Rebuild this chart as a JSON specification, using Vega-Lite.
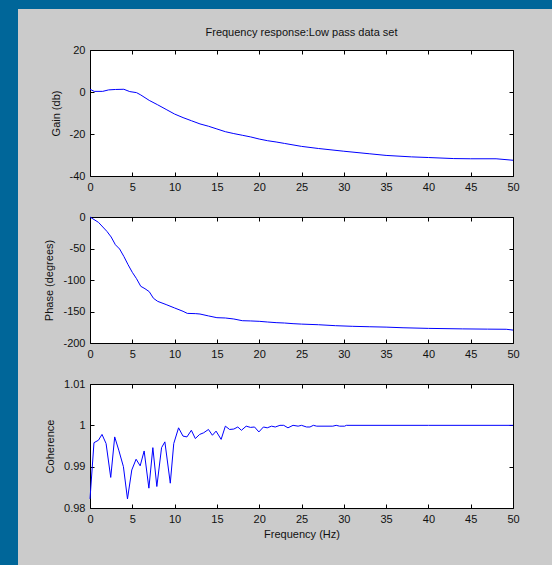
{
  "$schema": "https://vega.github.io/schema/vega-lite/v6.json",
  "background": "#cbcbcb",
  "padding": 0,
  "spacing": 0,
  "bounds": "flush",
  "datasets": {
    "gain": [
      {"f": 0, "v": 1.3}, {"f": 0.5, "v": 0.3}, {"f": 1.5, "v": 0.3}, {"f": 2.2, "v": 1.0}, {"f": 3, "v": 1.2},
      {"f": 4, "v": 1.3}, {"f": 4.7, "v": 0.2}, {"f": 5.5, "v": -0.3}, {"f": 6, "v": -1.4}, {"f": 7, "v": -4.0},
      {"f": 8, "v": -6.1}, {"f": 9, "v": -8.3}, {"f": 10, "v": -10.5}, {"f": 11, "v": -12.2}, {"f": 12, "v": -13.7},
      {"f": 13, "v": -15.2}, {"f": 14, "v": -16.3}, {"f": 15, "v": -17.6}, {"f": 16, "v": -18.9}, {"f": 17, "v": -19.8},
      {"f": 18, "v": -20.6}, {"f": 19, "v": -21.4}, {"f": 20, "v": -22.4}, {"f": 21, "v": -23.2}, {"f": 22, "v": -23.8},
      {"f": 23, "v": -24.5}, {"f": 25, "v": -25.9}, {"f": 27, "v": -26.9}, {"f": 30, "v": -28.2}, {"f": 33, "v": -29.4},
      {"f": 35, "v": -30.2}, {"f": 38, "v": -30.9}, {"f": 40, "v": -31.2}, {"f": 43, "v": -31.7}, {"f": 45, "v": -31.8},
      {"f": 48, "v": -31.8}, {"f": 50, "v": -32.5}
    ],
    "phase": [
      {"f": 0, "v": 0}, {"f": 1, "v": -8.5}, {"f": 2, "v": -22.8}, {"f": 2.5, "v": -31.7}, {"f": 3, "v": -44},
      {"f": 3.5, "v": -50.8}, {"f": 4, "v": -62.5}, {"f": 4.5, "v": -75.7}, {"f": 5, "v": -87.8}, {"f": 5.5, "v": -97.9},
      {"f": 6, "v": -110}, {"f": 6.5, "v": -113.8}, {"f": 7, "v": -118.5}, {"f": 7.5, "v": -129}, {"f": 8, "v": -133.9},
      {"f": 9, "v": -139}, {"f": 10, "v": -144.4}, {"f": 11, "v": -149.7}, {"f": 11.5, "v": -153}, {"f": 12.5, "v": -153.4},
      {"f": 13, "v": -154}, {"f": 14, "v": -157}, {"f": 15, "v": -159.8}, {"f": 16, "v": -160.3}, {"f": 17, "v": -161.9},
      {"f": 18, "v": -164.6}, {"f": 19, "v": -165}, {"f": 20, "v": -165.6}, {"f": 21, "v": -166.7}, {"f": 22, "v": -167.7},
      {"f": 23, "v": -168.3}, {"f": 24, "v": -169.3}, {"f": 25, "v": -170}, {"f": 27, "v": -171}, {"f": 29, "v": -172.5},
      {"f": 31, "v": -173.5}, {"f": 33, "v": -174.2}, {"f": 35, "v": -174.8}, {"f": 37, "v": -175.8}, {"f": 40, "v": -176.8},
      {"f": 44, "v": -177.6}, {"f": 47, "v": -178}, {"f": 49.2, "v": -178.2}, {"f": 50, "v": -179.5}
    ],
    "coh": [
      {"f": 0, "v": 0.9822}, {"f": 0.47, "v": 0.9958}, {"f": 1.0, "v": 0.9964}, {"f": 1.42, "v": 0.9978}, {"f": 1.9, "v": 0.9956},
      {"f": 2.45, "v": 0.9874}, {"f": 2.92, "v": 0.9972}, {"f": 3.4, "v": 0.994}, {"f": 3.95, "v": 0.99}, {"f": 4.43, "v": 0.9822},
      {"f": 4.94, "v": 0.9892}, {"f": 5.45, "v": 0.9918}, {"f": 5.93, "v": 0.9902}, {"f": 6.4, "v": 0.9938}, {"f": 6.96, "v": 0.9848},
      {"f": 7.43, "v": 0.9946}, {"f": 7.9, "v": 0.9852}, {"f": 8.46, "v": 0.9946}, {"f": 8.85, "v": 0.996}, {"f": 9.49, "v": 0.986},
      {"f": 9.9, "v": 0.9956}, {"f": 10.47, "v": 0.9994}, {"f": 10.99, "v": 0.9974}, {"f": 11.46, "v": 0.9972}, {"f": 11.98, "v": 0.9988},
      {"f": 12.45, "v": 0.9968}, {"f": 12.96, "v": 0.9978}, {"f": 13.44, "v": 0.9982}, {"f": 14.0, "v": 0.999}, {"f": 14.47, "v": 0.9976},
      {"f": 14.9, "v": 0.9986}, {"f": 15.5, "v": 0.9966}, {"f": 16.0, "v": 0.9998}, {"f": 16.5, "v": 0.999}, {"f": 17.0, "v": 0.9991},
      {"f": 17.47, "v": 0.9996}, {"f": 17.9, "v": 0.9988}, {"f": 18.46, "v": 0.9998}, {"f": 18.97, "v": 0.9995}, {"f": 19.45, "v": 0.9996},
      {"f": 19.96, "v": 0.9984}, {"f": 20.5, "v": 0.9996}, {"f": 20.95, "v": 0.9994}, {"f": 21.46, "v": 0.9998}, {"f": 21.9, "v": 0.9996},
      {"f": 22.45, "v": 1.0}, {"f": 22.9, "v": 1.0}, {"f": 23.4, "v": 0.9994}, {"f": 24.0, "v": 1.0}, {"f": 24.6, "v": 0.9998},
      {"f": 25.0, "v": 1.0}, {"f": 25.6, "v": 0.9996}, {"f": 26.0, "v": 0.9996}, {"f": 26.4, "v": 1.0}, {"f": 26.8, "v": 0.9998},
      {"f": 28.7, "v": 0.9998}, {"f": 29.1, "v": 1.0}, {"f": 29.5, "v": 0.9998}, {"f": 30.1, "v": 0.9998}, {"f": 30.3, "v": 1.0},
      {"f": 40, "v": 1.0}, {"f": 50, "v": 1.0}
    ],
    "one": [{"k": 1}]
  },
  "hconcat": [
    {
      "width": 18, "height": 565,
      "view": {"fill": "#006699", "stroke": null},
      "data": {"name": "one"},
      "mark": {"type": "point", "opacity": 0},
      "encoding": {}
    },
    {
      "vconcat": [
        {
          "width": 534, "height": 9,
          "view": {"fill": "#006699", "stroke": null},
          "data": {"name": "one"},
          "mark": {"type": "point", "opacity": 0},
          "encoding": {}
        },
        {
          "hconcat": [
            {
              "width": 1, "height": 1,
              "view": {"stroke": null},
              "data": {"name": "one"},
              "mark": {"type": "point", "opacity": 0},
              "encoding": {}
            },
            {
              "vconcat": [
                {
                  "width": 423, "height": 126,
                  "title": {"text": "Frequency response:Low pass data set", "offset": 6},
                  "view": {"fill": "white", "stroke": "black"},
                  "data": {"name": "gain"},
                  "layer": [
                    {
                      "mark": {"type": "line", "color": "#0000ff", "strokeWidth": 1},
                      "encoding": {
                        "x": {"field": "f", "type": "quantitative", "scale": {"domain": [0, 50], "nice": false},
                              "axis": {"orient": "bottom", "values": [0,5,10,15,20,25,30,35,40,45,50], "title": null}},
                        "y": {"field": "v", "type": "quantitative", "scale": {"domain": [-40, 20], "nice": false, "zero": false},
                              "axis": {"orient": "left", "values": [-40,-20,0,20], "title": "Gain (db)"}}
                      }
                    },
                    {
                      "mark": {"type": "line", "strokeOpacity": 0},
                      "encoding": {
                        "x": {"field": "f", "type": "quantitative",
                              "axis": {"orient": "top", "values": [0,5,10,15,20,25,30,35,40,45,50], "labels": false, "title": null}},
                        "y": {"field": "v", "type": "quantitative",
                              "axis": {"orient": "right", "values": [-40,-20,0,20], "labels": false, "title": null}}
                      }
                    }
                  ],
                  "resolve": {"axis": {"x": "independent", "y": "independent"}}
                },
                {
                  "width": 423, "height": 126,
                  "view": {"fill": "white", "stroke": "black"},
                  "data": {"name": "phase"},
                  "layer": [
                    {
                      "mark": {"type": "line", "color": "#0000ff", "strokeWidth": 1},
                      "encoding": {
                        "x": {"field": "f", "type": "quantitative", "scale": {"domain": [0, 50], "nice": false},
                              "axis": {"orient": "bottom", "values": [0,5,10,15,20,25,30,35,40,45,50], "title": null}},
                        "y": {"field": "v", "type": "quantitative", "scale": {"domain": [-200, 0], "nice": false, "zero": false},
                              "axis": {"orient": "left", "values": [-200,-150,-100,-50,0], "title": "Phase (degrees)"}}
                      }
                    },
                    {
                      "mark": {"type": "line", "strokeOpacity": 0},
                      "encoding": {
                        "x": {"field": "f", "type": "quantitative",
                              "axis": {"orient": "top", "values": [0,5,10,15,20,25,30,35,40,45,50], "labels": false, "title": null}},
                        "y": {"field": "v", "type": "quantitative",
                              "axis": {"orient": "right", "values": [-200,-150,-100,-50,0], "labels": false, "title": null}}
                      }
                    }
                  ],
                  "resolve": {"axis": {"x": "independent", "y": "independent"}}
                },
                {
                  "width": 423, "height": 124,
                  "view": {"fill": "white", "stroke": "black"},
                  "data": {"name": "coh"},
                  "layer": [
                    {
                      "mark": {"type": "line", "color": "#0000ff", "strokeWidth": 1},
                      "encoding": {
                        "x": {"field": "f", "type": "quantitative", "scale": {"domain": [0, 50], "nice": false},
                              "axis": {"orient": "bottom", "values": [0,5,10,15,20,25,30,35,40,45,50], "title": "Frequency (Hz)", "titlePadding": 4}},
                        "y": {"field": "v", "type": "quantitative", "scale": {"domain": [0.98, 1.01], "nice": false, "zero": false},
                              "axis": {"orient": "left", "values": [0.98, 0.99, 1, 1.01], "title": "Coherence"}}
                      }
                    },
                    {
                      "mark": {"type": "line", "strokeOpacity": 0},
                      "encoding": {
                        "x": {"field": "f", "type": "quantitative",
                              "axis": {"orient": "top", "values": [0,5,10,15,20,25,30,35,40,45,50], "labels": false, "title": null}},
                        "y": {"field": "v", "type": "quantitative",
                              "axis": {"orient": "right", "values": [0.98, 0.99, 1, 1.01], "labels": false, "title": null}}
                      }
                    }
                  ],
                  "resolve": {"axis": {"x": "independent", "y": "independent"}}
                }
              ],
              "spacing": 41,
              "bounds": "flush"
            }
          ],
          "spacing": 71,
          "bounds": "flush"
        }
      ],
      "spacing": 41,
      "bounds": "flush"
    }
  ],
  "config": {
    "font": "Liberation Sans",
    "title": {"font": "Liberation Sans", "fontSize": 11, "fontWeight": "normal", "color": "#111111", "anchor": "middle"},
    "axis": {
      "domain": false,
      "grid": false,
      "ticks": true,
      "tickSize": -4,
      "tickColor": "#000000",
      "tickWidth": 1,
      "labelFont": "Liberation Sans",
      "labelFontSize": 11,
      "labelColor": "#111111",
      "labelPadding": 9,
      "labelFlush": false,
      "labelOverlap": false,
      "labelExpr": "'' + datum.value",
      "titleFont": "Liberation Sans",
      "titleFontSize": 11,
      "titleFontWeight": "normal",
      "titleColor": "#111111",
      "titlePadding": 8
    }
  }
}
